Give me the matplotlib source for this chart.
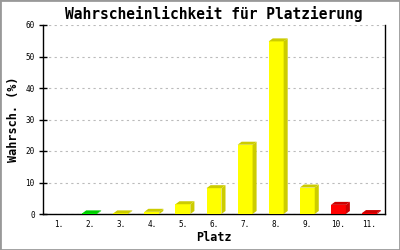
import matplotlib.pyplot as plt
from matplotlib.patches import Polygon, Rectangle

places = ["1.", "2.", "3.", "4.", "5.", "6.", "7.", "8.", "9.", "10.", "11."]
probs = [0.0, 0.2, 0.2, 0.7, 3.1, 8.2, 22.0, 54.8, 8.4, 2.9, 0.3]
front_cols = ["#00ff00", "#00ff00", "#ffff00", "#ffff00", "#ffff00", "#ffff00",
              "#ffff00", "#ffff00", "#ffff00", "#ff0000", "#ff0000"]
dark_cols = ["#00cc00", "#00cc00", "#cccc00", "#cccc00", "#cccc00", "#cccc00",
             "#cccc00", "#cccc00", "#cccc00", "#cc0000", "#cc0000"]

fig = plt.figure(figsize=(4, 2.5), dpi=100)
ax = fig.add_axes([0.1075, 0.144, 0.855, 0.756])

mono = "DejaVu Sans Mono"
width = 0.48
dx = 0.13   # 3d depth in x (data units)
dy = 0.95   # 3d depth in y

xs = list(range(len(places)))
for x, v, fc, dc in zip(xs, probs, front_cols, dark_cols):
    if v <= 0:
        continue
    x0, x1 = x - width / 2, x + width / 2
    ax.bar(x, v, width=width, color=fc, zorder=3)
    # top face
    ax.add_patch(Polygon([(x0, v), (x0 + dx, v + dy), (x1 + dx, v + dy), (x1, v)],
                         closed=True, facecolor=dc, edgecolor="none", zorder=3))
    # side face
    ax.add_patch(Polygon([(x1, 0), (x1 + dx, min(dy, v + dy)), (x1 + dx, v + dy), (x1, v)],
                         closed=True, facecolor=dc, edgecolor="none", zorder=3))

ax.set_xlim(-0.5, len(places) - 0.5)
ax.set_ylim(0, 60)
ax.set_yticks(range(0, 61, 10))
ax.set_xticks(xs)
ax.set_xticklabels(places, family=mono, fontsize=5.5)
ax.tick_params(axis="x", length=0, pad=4)
ax.tick_params(axis="y", direction="inout", length=6, width=1, labelsize=5.5, pad=3)
for lab in ax.get_yticklabels():
    lab.set_family(mono)

ax.yaxis.grid(True, color="#bbbbbb", linestyle=(0, (2, 3)), linewidth=0.8, zorder=0)
ax.spines["top"].set_visible(False)
for s in ["left", "bottom", "right"]:
    ax.spines[s].set_linewidth(1)

ax.set_title("Wahrscheinlichkeit für Platzierung", family=mono, fontsize=10.5,
             fontweight="semibold", pad=4)
ax.set_xlabel("Platz", family=mono, fontsize=8.5, fontweight="bold", labelpad=2)
ax.set_ylabel("Wahrsch. (%)", family=mono, fontsize=8.5, fontweight="bold", labelpad=4)

fig.patches.append(Rectangle((0, 0), 1, 1, transform=fig.transFigure, fill=False,
                             edgecolor="#999999", linewidth=2))

fig.savefig("out.png", dpi=100)
